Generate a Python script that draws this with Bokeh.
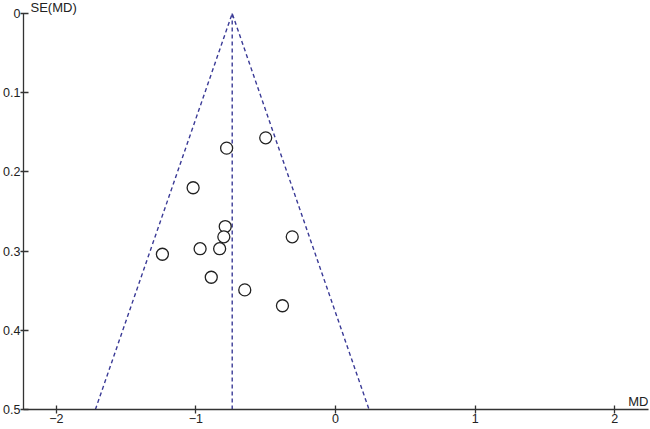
from bokeh.plotting import figure
from bokeh.models import Range1d, FixedTicker, Label
from bokeh.embed import file_html
from bokeh.resources import INLINE

# Study estimates (mean difference and its standard error)
md = [-0.50, -0.78, -1.02, -0.79, -0.80, -0.31, -1.24, -0.97, -0.83, -0.89, -0.65, -0.38]
se = [0.157, 0.170, 0.220, 0.269, 0.282, 0.282, 0.304, 0.297, 0.297, 0.333, 0.349, 0.369]

pooled_md = -0.74
se_max = 0.5
z = 1.96

x_ticks = [-2, -1, 0, 1, 2]
y_ticks = [0, 0.1, 0.2, 0.3, 0.4, 0.5]
y_labels = {0: "0"}

X_START, X_END = -2.235, 2.242
Y_TOP = -0.0164   # a little head-room above SE = 0 for the axis title
FONT = "Liberation Sans"
DASH_COLOR = "#3a3a96"

p = figure(width=650, height=429, output_backend="svg", toolbar_location=None,
           x_range=Range1d(X_START, X_END), y_range=Range1d(se_max, Y_TOP),
           min_border_left=0, min_border_right=2, min_border_top=0, min_border_bottom=20)
p.outline_line_color = None
p.xgrid.visible = False
p.ygrid.visible = False

for ax in (p.xaxis[0], p.yaxis[0]):
    ax.axis_line_color = "#333333"
    ax.axis_line_width = 1.3
    ax.major_tick_line_color = "#333333"
    ax.major_tick_line_width = 1.3
    ax.major_tick_in = 4
    ax.major_tick_out = 4
    ax.minor_tick_line_color = None
    ax.major_label_text_font = FONT
    ax.major_label_text_font_size = "12.5px"
    ax.major_label_text_color = "#222222"

p.xaxis.ticker = FixedTicker(ticks=x_ticks)
p.yaxis.ticker = FixedTicker(ticks=y_ticks)
p.yaxis.bounds = (0, se_max)
p.yaxis.major_label_overrides = y_labels
p.yaxis.major_tick_out = 3
p.yaxis.major_tick_in = 5
p.yaxis.major_label_standoff = 0
p.xaxis.major_label_standoff = 0

# Funnel (pseudo 95% confidence limits)
funnel_x = [pooled_md - z * se_max, pooled_md, pooled_md + z * se_max]
funnel_y = [se_max, 0, se_max]
p.line(funnel_x, funnel_y, line_color=DASH_COLOR, line_width=1.4, line_dash="4 3")
p.line([pooled_md, pooled_md], [0, se_max], line_color=DASH_COLOR, line_width=1.4, line_dash="4 3")

# Studies
p.scatter(md, se, marker="circle", size=12, fill_color="white",
          line_color="#222222", line_width=1.3)

# Axis titles
p.add_layout(Label(x=X_START, y=0, x_offset=7, y_offset=6, text="SE(MD)",
                   text_align="left", text_baseline="middle", text_font=FONT,
                   text_font_size="13px", text_color="#222222"))
p.add_layout(Label(x=X_END, y=se_max, x_offset=0, y_offset=1, text="MD",
                   text_align="right", text_baseline="bottom", text_font=FONT,
                   text_font_size="13px", text_color="#222222"))

open("out.html", "w").write(file_html(p, INLINE))
